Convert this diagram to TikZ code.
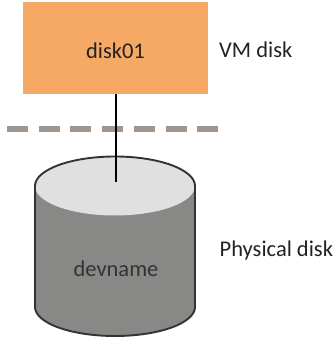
\documentclass[tikz,border=0pt]{standalone}
\usepackage{fontspec}
\setmainfont{Carlito}
\definecolor{vmorange}{HTML}{F6A965}
\definecolor{cyltop}{HTML}{E0E0E0}
\definecolor{cylbody}{HTML}{888886}
\definecolor{cylline}{HTML}{333333}
\definecolor{dashgray}{HTML}{A0958F}
\definecolor{txt}{HTML}{222222}
\tikzset{
  label text/.style={font=\fontsize{22.5}{24}\selectfont, text=txt, inner sep=0pt},
  vmbox/.style={fill=vmorange, minimum width=185pt, minimum height=92pt, inner sep=0pt, font=\fontsize{22.5}{24}\selectfont, text=txt},
  cyl edge/.style={draw=cylline, line width=1.9pt},
  link/.style={draw=black, line width=1.2pt},
  divider/.style={draw=dashgray, line width=5.5pt, dash pattern=on 21pt off 10.7pt}
}
\begin{document}
\begin{tikzpicture}[x=1pt,y=-1pt]
\useasboundingbox (0,0) rectangle (335,339);
% cylinder
\path[fill=cylbody] (35,186) -- (35,307) arc[start angle=180,end angle=360,x radius=80pt,y radius=29pt] -- (195,186) -- cycle;
\path[fill=cyltop] (115,186) ellipse[x radius=80pt,y radius=29.5pt];
\draw[cyl edge] (35,186) arc[start angle=180,end angle=0,x radius=80pt,y radius=29.5pt] -- (195,307) arc[start angle=0,end angle=-180,x radius=80pt,y radius=29pt] -- cycle;
\node[vmbox] (vm) at (115.5,48) {};
\node[label text] (vmname) at (115.5,51) {disk01};
\coordinate (end) at (116,182);
\coordinate (dl) at (7,129);
\coordinate (dr) at (219,129);
\draw[divider] (dl) -- (dr);
\draw[link] (vm.south -| end) -- (end);
\node[label text, anchor=west] (vml) at (219,50) {VM disk};
\node[label text, anchor=west] (phl) at (219.5,250) {Physical disk};
\node[label text, text=cylline] (dev) at (116,269) {devname};
\end{tikzpicture}
\end{document}
